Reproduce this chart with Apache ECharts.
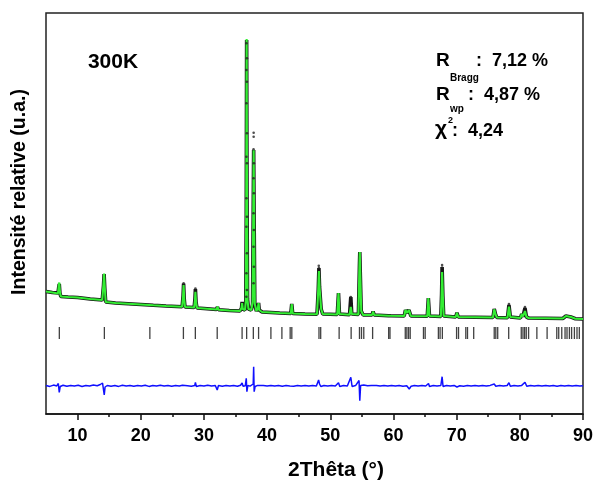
<!DOCTYPE html>
<html>
<head>
<meta charset="utf-8">
<script src="https://cdn.jsdelivr.net/npm/echarts@6/dist/echarts.min.js"></script>
<style>
html,body{margin:0;padding:0;background:#fff;}
#chart{width:596px;height:486px;}
</style>
</head>
<body>
<div id="chart"></div>
<script>
// ---- Data (intensity in arbitrary units) ----
var twoTheta = [5.0,6.0,6.9,7.0,7.1,7.2,7.35,8.5,10,12,13.9,14.1,14.2,14.3,14.45,16,18,20,22,24,26.55,26.7,26.78,26.88,27.0,28.45,28.58,28.65,28.75,28.9,30,32.0,32.15,32.3,34,35.7,35.95,36.04,36.15,36.5,36.62,36.7,36.76,36.82,36.9,37.05,37.5,37.7,37.8,37.87,37.95,38.05,38.3,38.55,38.65,38.75,39.2,42,43.75,43.9,44.05,46,47.9,48.1,48.2,48.3,48.42,48.55,48.8,51.1,51.3,51.45,53.05,53.25,53.4,54.45,54.62,54.67,54.75,54.9,55.2,56.6,56.78,56.95,59.2,59.4,59.6,61.7,61.9,62.15,62.45,62.75,65.35,65.52,65.7,67.5,67.62,67.7,67.82,67.95,69.85,70.05,70.25,75.75,75.95,76.15,76.35,78.05,78.28,78.5,80.1,80.3,80.5,80.82,81.05,81.4,86.8,87.3,87.6,88.1,88.8,90];
var yObs = [122.5,121.5,121,126,130,121,117.5,117,116.5,115,114,128,140,126,112,111,110.3,109.5,108.7,108,107.3,118,130.5,115,107,106.5,115,125,112,106,105.5,104.5,107,104.3,103.5,103,106,112,105,104,110,200,374,220,115,105,104,110,200,264,190,110,103,106,111,104,102,101,100.5,110,100.5,100,99.8,125,146,127,126,105,100,99.5,121,100,99.3,117,100,99.5,150,162,140,103,99,99,102.5,99,98.3,99,98.2,98,104,101,104,98,97.7,116,98,97.5,120,147,118,98,97,101.3,97,96.5,105,100,96.5,96.3,109,97,96,100,97.5,106,97,96,95.5,98,99,97,95.3,95];
var yCalc = [122.5,121.5,120.5,127,131.5,122,117.5,117,116.5,115,114,130,140.5,127,112,111,110.3,109.5,108.7,108,107.3,118,129,115,107,106.5,114,122.3,112,106,105.5,104.5,107.5,104.3,103.5,103,106,111,105,104,112,210,375,210,114,105,104,112,195,264,190,110,103,106,111,104,102,101,100.5,110,100.5,100,99.8,125,143,127,126,105,100,99.5,121,100,99.3,107,100,99.5,150,162,140,103,99,99,102.5,99,98.3,99,98.2,98,104,101,104,98,97.7,116,98,97.5,120,142,118,98,97,101.3,97,96.5,104.7,100,96.5,96.3,107.3,97,96,100,97.5,103,97,96,95.5,98,99,97,95.3,95];

// isolated observed points (peak tops and flank points of the strongest reflections)
var obsPtX = [26.78,28.65,37.87,37.87,48.18,48.2,67.7,67.7,53.25,80.82,78.28,
  36.72,36.8,36.72,36.8,36.72,36.8,36.72,36.8,36.72,36.8,36.72,36.8,36.72,36.8,36.72,
  37.85,37.9,37.85,37.9,37.85,37.9,37.85,37.9,37.85];
var obsPtY = [130.7,125.5,281.3,277.3,148.3,146,149,146.5,117,107,110,
  370.7,355.7,344,332.3,310.7,280.7,257.3,250.7,215.7,197.3,187.3,160.7,140.7,124,117.3,
  264.7,250.7,235.7,220.7,200.7,184,167.3,147.3,130.7];

// difference curve (Yobs - Ycalc, offset)
var diffX = [5,5.6,6.2,6.7,6.95,7.1,7.25,7.7,8.3,8.9,9.5,10.1,10.7,11.3,11.9,12.5,13.1,13.6,13.95,14.1,14.22,14.35,14.7,15.3,15.9,16.5,17.1,17.7,18.3,18.9,19.5,20.1,20.7,21.3,21.9,22.5,23.1,23.7,24.3,24.9,25.5,26.1,26.6,26.78,26.9,27.4,28.0,28.55,28.65,28.8,29.4,30,30.6,31.2,31.8,32.1,32.3,32.9,33.5,34.1,34.7,35.3,35.8,36.04,36.2,36.55,36.7,36.8,36.95,37.3,37.6,37.8,37.87,37.95,38.1,38.5,38.65,38.8,39.4,40,40.6,41.2,41.8,42.4,43,43.6,43.9,44.2,44.8,45.4,46,46.6,47.2,47.8,48.15,48.3,48.5,49,49.6,50.2,50.8,51.3,51.5,52.1,52.7,53.25,53.45,54,54.55,54.67,54.8,55.3,55.9,56.5,56.8,57.3,57.9,58.5,59.1,59.7,60.3,60.9,61.5,62.1,62.5,62.8,63.3,63.9,64.5,65.1,65.55,65.7,66.3,66.9,67.5,67.7,67.85,68.4,69,69.6,70.05,70.5,71.1,71.7,72.3,72.9,73.5,74.1,74.7,75.3,75.95,76.2,76.8,77.4,78,78.28,78.5,79.1,79.7,80.3,80.82,81.1,81.7,82.3,82.9,83.5,84.1,84.7,85.3,85.9,86.5,87.1,87.7,88.3,88.9,89.5,90];
var diffY = [28.5,27.6,28.9,28.1,30.5,21.5,27.5,28.8,27.7,28.6,27.9,28.7,27.5,28.5,28,28.9,28.2,29.5,31,29,19,27,28.5,27.8,28.6,27.6,28.7,28,28.6,27.7,28.5,28,28.8,27.6,28.4,27.9,28.7,28.1,28.6,27.7,28.4,28,28.8,30,27,28.3,27.8,28.5,31.7,27.5,28.4,27.9,28.7,28,28.5,24,28.5,27.8,28.6,28,28.4,27.7,28.8,31,27.8,28.3,35.7,22.3,28.5,27.9,28.5,30,47.3,22.3,27.5,28.6,30,27.8,28.4,27.9,28.6,28,28.5,27.7,28.4,28,29.5,27.8,28.5,28,28.6,27.9,28.4,28,34,30,27.5,28.5,27.9,28.4,28,31.3,27.6,28.5,28,36.7,27.5,28.4,33.5,13.3,28.5,29,28.2,28.6,27.6,28.5,28,28.6,27.9,28.5,28,28.6,27.8,28.3,25,27.8,28.5,27.9,28.6,28,30.5,27.6,28.4,28,28.5,37.3,27.5,28.5,27.9,28.6,27,28.3,27.8,28.5,28,28.6,27.9,28.5,28,28.6,30,27.8,28.4,28,28.5,31.3,27.8,28.5,28,28.6,31.7,27.7,28.4,28,28.6,27.9,28.5,28,28.5,27.8,28.4,28,28.6,27.9,28.4,28,28.3];

// Bragg reflection positions
var braggPos = [7.11,14.24,21.44,26.75,28.64,32.1,36.04,36.76,37.82,38.65,40.6,42.34,43.65,43.91,48.21,48.48,51.4,53.3,54.62,54.94,55.3,56.7,59.24,59.45,61.87,62.12,62.39,62.65,64.75,65.02,67.11,67.38,67.74,69.99,70.3,71.45,71.72,72.7,75.95,76.2,76.5,78.24,80.23,80.5,80.76,81.02,81.39,82.7,84.32,85.85,86.16,86.64,87.16,87.47,87.85,88.2,88.64,89.05,89.42];
var braggLevel = 81;

var xMajorTicks = [10,20,30,40,50,60,70,80,90];
var xMinorTicks = [15,25,35,45,55,65,75,85];

function zip(a, b) { return a.map(function (v, i) { return [v, b[i]]; }); }

var chart = echarts.init(document.getElementById('chart'), null, {renderer: 'canvas'});
var FONT = '"Liberation Sans", Arial, sans-serif';

chart.setOption({
  animation: false,
  backgroundColor: '#fff',
  grid: {left: 46, right: 11, top: 13, bottom: 72, show: true, borderColor: '#222', borderWidth: 1.5, backgroundColor: 'transparent'},
  xAxis: [{
    type: 'value', min: 5, max: 90, position: 'bottom',
    axisLine: {show: true, lineStyle: {color: '#111', width: 1.5}},
    axisTick: {show: true, inside: false, length: 6, lineStyle: {color: '#111', width: 1.5}, customValues: xMajorTicks},
    axisLabel: {show: true, customValues: xMajorTicks, margin: 13, color: '#000', fontSize: 18, fontWeight: 'bold', fontFamily: FONT},
    splitLine: {show: false}
  }, {
    type: 'value', min: 5, max: 90, position: 'bottom',
    axisLine: {show: false},
    axisTick: {show: true, inside: false, length: 3, lineStyle: {color: '#111', width: 1.5}, customValues: xMinorTicks},
    axisLabel: {show: false},
    splitLine: {show: false}
  }],
  yAxis: {
    type: 'value', min: 0, max: 401,
    axisLine: {show: false}, axisTick: {show: false}, axisLabel: {show: false}, splitLine: {show: false}
  },
  series: [
    {type: 'line', name: 'Yobs', data: zip(twoTheta, yObs), showSymbol: false, symbol: 'none',
     lineStyle: {color: '#151515', width: 3.6}, z: 2},
    {type: 'scatter', name: 'Yobs pts', data: zip(obsPtX, obsPtY), symbol: 'circle', symbolSize: 2.6,
     itemStyle: {color: '#222'}, z: 4},
    {type: 'line', name: 'Ycalc', data: zip(twoTheta, yCalc), showSymbol: false, symbol: 'none',
     lineStyle: {color: '#33ee33', width: 2.1}, z: 3},
    {type: 'line', name: 'Yobs-Ycalc', data: zip(diffX, diffY), showSymbol: false, symbol: 'none',
     lineStyle: {color: '#1010ff', width: 1.5}, z: 3},
    {type: 'scatter', name: 'Bragg', data: braggPos.map(function (p) { return [p, braggLevel]; }),
     symbol: 'rect', symbolSize: [1.3, 12], itemStyle: {color: '#111'}, z: 3}
  ],
  graphic: [
    {type: 'text', x: 113, y: 62, style: {text: '300K', font: 'bold 21px ' + FONT, fill: '#000', align: 'center', verticalAlign: 'middle'}},
    {type: 'text', x: 20, y: 192, rotation: Math.PI / 2, style: {text: 'Intensité relative (u.a.)', font: 'bold 19.5px ' + FONT, fill: '#000', align: 'center', verticalAlign: 'middle'}},
    {type: 'text', x: 336, y: 470, style: {text: '2Thêta (°)', font: 'bold 21px ' + FONT, fill: '#000', align: 'center', verticalAlign: 'middle'}},
    // R_Bragg
    {type: 'text', x: 436, y: 70, style: {text: 'R', font: 'bold 19px ' + FONT, fill: '#000', align: 'left', verticalAlign: 'bottom'}},
    {type: 'text', x: 450, y: 83, style: {text: 'Bragg', font: 'bold 10px ' + FONT, fill: '#000', align: 'left', verticalAlign: 'bottom'}},
    {type: 'text', x: 476, y: 70, style: {text: ':  7,12 %', font: 'bold 18px ' + FONT, fill: '#000', align: 'left', verticalAlign: 'bottom'}},
    // R_wp
    {type: 'text', x: 436, y: 104, style: {text: 'R', font: 'bold 19px ' + FONT, fill: '#000', align: 'left', verticalAlign: 'bottom'}},
    {type: 'text', x: 450, y: 114, style: {text: 'wp', font: 'bold 10px ' + FONT, fill: '#000', align: 'left', verticalAlign: 'bottom'}},
    {type: 'text', x: 468, y: 104, style: {text: ':  4,87 %', font: 'bold 18px ' + FONT, fill: '#000', align: 'left', verticalAlign: 'bottom'}},
    // chi^2
    {type: 'text', x: 435, y: 140, style: {text: 'χ', font: 'bold 21px ' + FONT, fill: '#000', align: 'left', verticalAlign: 'bottom'}},
    {type: 'text', x: 448, y: 125, style: {text: '2', font: 'bold 9px ' + FONT, fill: '#000', align: 'left', verticalAlign: 'bottom'}},
    {type: 'text', x: 452, y: 140, style: {text: ':  4,24', font: 'bold 18px ' + FONT, fill: '#000', align: 'left', verticalAlign: 'bottom'}}
  ]
});
</script>
</body>
</html>
